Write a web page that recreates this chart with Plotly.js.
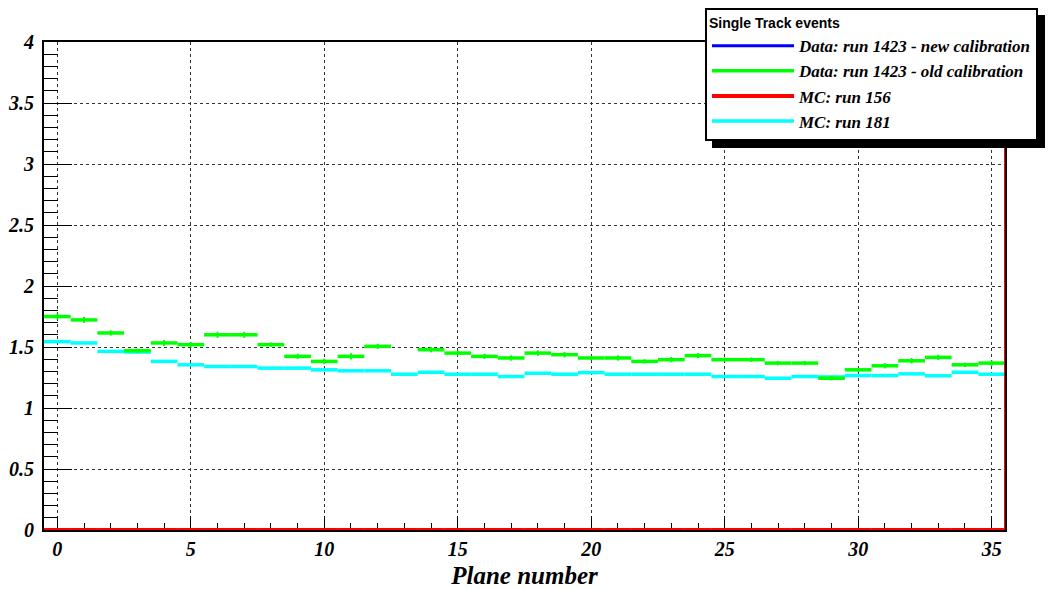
<!DOCTYPE html>
<html>
<head>
<meta charset="utf-8">
<script src="https://cdn.plot.ly/plotly-3.0.1.min.js"></script>
<style>
  html, body { margin: 0; padding: 0; background: #fff; }
  #chart { width: 1058px; height: 589px; }
</style>
</head>
<body>
<div id="chart"></div>
<script>
// Plane numbers (bin centres, one bin per plane)
const planes = [0,1,2,3,4,5,6,7,8,9,10,11,12,13,14,15,16,17,18,19,20,21,22,23,24,25,26,27,28,29,30,31,32,33,34,35];

// Data: run 1423 - new calibration (empty)
const dataNew = planes.map(() => 0);

// Data: run 1423 - old calibration
const dataOld = [1.75, 1.722, 1.615, 1.47, 1.533, 1.519, 1.60, 1.60, 1.519, 1.423,
                 1.382, 1.423, 1.505, 0, 1.478, 1.45, 1.423, 1.41, 1.45, 1.437,
                 1.41, 1.41, 1.382, 1.396, 1.429, 1.396, 1.396, 1.368, 1.368, 1.244,
                 1.313, 1.346, 1.387, 1.415, 1.354, 1.368];
const dataOldErr = [0.025, 0.025, 0.022, 0.018, 0.025, 0.022, 0.025, 0.025, 0.018, 0.022,
                    0.022, 0.025, 0.022, 0, 0.022, 0.022, 0.022, 0.022, 0.022, 0.022,
                    0.018, 0.022, 0.018, 0.022, 0.022, 0.018, 0.018, 0.018, 0.018, 0.018,
                    0.018, 0.022, 0.022, 0.022, 0.018, 0.022];

// MC: run 156 (empty)
const mc156 = planes.map(() => 0);

// MC: run 181
const mc181 = [1.544, 1.533, 1.464, 1.459, 1.382, 1.354, 1.34, 1.34, 1.327, 1.327,
               1.313, 1.305, 1.305, 1.277, 1.293, 1.277, 1.277, 1.258, 1.285, 1.277,
               1.29, 1.277, 1.277, 1.277, 1.277, 1.258, 1.258, 1.244, 1.258, 1.255,
               1.266, 1.266, 1.28, 1.264, 1.293, 1.277];

const serif = "'Liberation Serif', 'Times New Roman', serif";
const sans = "'Liberation Sans', Arial, sans-serif";

// Horizontal bin segments [lo, hi] for each plane, broken with nulls
function segX(xs) {
  const out = [];
  xs.forEach(x => { out.push(x - 0.5, x + 0.5, null); });
  return out;
}
function segY(ys) {
  const out = [];
  ys.forEach(y => { out.push(y, y, null); });
  return out;
}

const halfBin = 0.5;
const xLo = planes[0] - halfBin;
const xHi = planes[planes.length - 1] + halfBin;

const traces = [
  {
    name: 'Data: run 1423 - new calibration', legendrank: 1,
    x: segX(planes), y: segY(dataNew), mode: 'lines',
    line: { color: '#0000ff', width: 3 }, hoverinfo: 'skip'
  },
  {
    name: 'MC: run 181', legendrank: 4,
    x: segX(planes), y: segY(mc181), mode: 'lines',
    line: { color: '#00ffff', width: 3.5 }, hoverinfo: 'skip'
  },
  {
    name: 'Data: run 1423 - old calibration', legendrank: 2,
    x: segX(planes), y: segY(dataOld), mode: 'lines',
    line: { color: '#00ff00', width: 3.5 }, hoverinfo: 'skip'
  },
  {
    // statistical errors on the old-calibration data
    x: planes, y: dataOld, mode: 'markers', showlegend: false,
    marker: { size: 1, color: '#00ff00' },
    error_y: { type: 'data', array: dataOldErr, visible: true, color: '#00ff00', thickness: 2, width: 0 },
    hoverinfo: 'skip'
  },
  {
    name: 'MC: run 156', legendrank: 3,
    x: segX(planes), y: segY(mc156), mode: 'lines',
    line: { color: '#ff0000', width: 4 }, hoverinfo: 'skip'
  }
];

const plotL = 44, plotR = 1005, plotT = 42, plotB = 530;
const W = 1058, H = 589;
const px = v => (v - plotL) / (plotR - plotL);
const py = v => (plotB - v) / (plotB - plotT);

const tickFont = { family: serif, size: 20, color: '#000', weight: 'bold', style: 'italic' };
const legLeft = 705, legTop = 8, shadow = 7;

const layout = {
  width: W, height: H,
  margin: { l: plotL, r: W - plotR, t: plotT, b: H - plotB, autoexpand: false },
  paper_bgcolor: '#ffffff', plot_bgcolor: '#ffffff',
  showlegend: true,
  xaxis: {
    range: [xLo, xHi], tick0: 0, dtick: 5, automargin: false, layer: 'below traces',
    ticks: 'inside', ticklen: 14, tickwidth: 1, tickcolor: '#000',
    minor: { dtick: 1, ticks: 'inside', ticklen: 7, tickwidth: 1, tickcolor: '#000', showgrid: false },
    showgrid: true, gridcolor: '#333', gridwidth: 1, griddash: 'dot',
    zeroline: false, showline: true, linecolor: '#000', linewidth: 2, mirror: true,
    tickfont: tickFont,
    title: { text: 'Plane number', standoff: 12,
             font: { family: serif, size: 25, color: '#000', weight: 'bold', style: 'italic' } }
  },
  yaxis: {
    range: [0, 4], tick0: 0, dtick: 0.5, automargin: false,
    ticks: 'inside', ticklen: 28, tickwidth: 1, tickcolor: '#000',
    minor: { dtick: 0.1, ticks: 'inside', ticklen: 14, tickwidth: 1, tickcolor: '#000', showgrid: false },
    showgrid: true, gridcolor: '#333', gridwidth: 1, griddash: 'dot',
    zeroline: false, showline: true, linecolor: '#000', linewidth: 2, mirror: true,
    ticklabelstandoff: 4,
    tickfont: tickFont
  },
  legend: {
    x: px(legLeft), y: py(legTop), xanchor: 'left', yanchor: 'top',
    bgcolor: '#ffffff', bordercolor: '#000', borderwidth: 2,
    itemwidth: 82, traceorder: 'normal',
    font: { family: serif, size: 17, color: '#000', weight: 'bold', style: 'italic' },
    title: { text: 'Single Track events', side: 'top',
             font: { family: sans, size: 14, color: '#000', weight: 'bold', style: 'normal' } }
  },
  shapes: [
    // right edge of the MC run 156 histogram
    { type: 'line', xref: 'x', yref: 'paper', x0: xHi, x1: xHi, y0: 0, y1: 1,
      line: { color: '#ff0000', width: 2 }, layer: 'above' }
  ]
};

const gd = document.getElementById('chart');
Plotly.newPlot(gd, traces, layout, { staticPlot: true, displayModeBar: false }).then(() => {
  // drop shadow sized to the rendered legend box
  const leg = gd._fullLayout.legend;
  const w = leg._width, h = leg._height;
  const shapes = layout.shapes.concat([{
    type: 'rect', xref: 'paper', yref: 'paper',
    x0: px(legLeft + shadow), x1: px(legLeft + w + shadow),
    y0: py(legTop + h + shadow), y1: py(legTop + shadow),
    fillcolor: '#000', line: { width: 0 }, layer: 'above'
  }]);
  return Plotly.relayout(gd, { shapes: shapes });
});
</script>
</body>
</html>
